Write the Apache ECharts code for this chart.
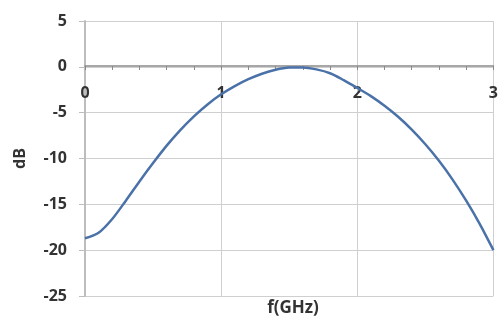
<!DOCTYPE html>
<html>
<head>
<meta charset="utf-8">
<script src="https://cdn.jsdelivr.net/npm/echarts@6/dist/echarts.min.js"></script>
<style>html,body{margin:0;padding:0;background:#fff;}#c{width:501px;height:323px;}</style>
</head>
<body>
<div id="c"></div>
<script>
var freqGHz = [0,0.1,0.2,0.3,0.4,0.5,0.6,0.7,0.8,0.9,1.0,1.1,1.2,1.3,1.4,1.5,1.6,1.7,1.8,1.9,2.0,2.1,2.2,2.3,2.4,2.5,2.6,2.7,2.8,2.9,3.0];
var gainDB  = [-18.7,-18.1,-16.6,-14.6,-12.5,-10.5,-8.6,-6.9,-5.4,-4.1,-3.0,-2.1,-1.35,-0.75,-0.32,-0.08,-0.06,-0.28,-0.7,-1.45,-2.3,-3.2,-4.25,-5.45,-6.85,-8.45,-10.25,-12.3,-14.6,-17.15,-20.0];
var xTicks = [0,1,2,3];
var yTicks = [-25,-20,-15,-10,-5,0,5];
var xName = 'f(GHz)';
var yName = 'dB';

var chart = echarts.init(document.getElementById('c'));
var font = '"Open Sans", "Liberation Sans", sans-serif';
chart.setOption({
  animation: false,
  grid: {left: 85, right: 4, top: 21, bottom: 27},
  xAxis: {
    type: 'value', min: xTicks[0], max: xTicks[xTicks.length-1], interval: 1,
    position: 'bottom', offset: -230,
    axisLine: {onZero: false, lineStyle: {color: '#8a8a8a', width: 1.5}},
    axisTick: {show: true, inside: false, length: 4, lineStyle: {color: '#8a8a8a'}},
    minorTick: {show: true, splitNumber: 5, length: 4, lineStyle: {color: '#8a8a8a'}},
    axisLabel: {margin: 19, color: '#333', fontSize: 16, fontWeight: 'bold', fontFamily: font},
    splitLine: {show: true, lineStyle: {color: '#cfcfcf', width: 1}}
  },
  yAxis: {
    type: 'value', min: yTicks[0], max: yTicks[yTicks.length-1], interval: 5,
    name: yName, nameLocation: 'middle', nameGap: 57, nameRotate: 90,
    nameTextStyle: {color: '#333', fontSize: 16, fontWeight: 'bold', fontFamily: font},
    axisLine: {show: true, onZero: false, lineStyle: {color: '#bdbdbd', width: 2}},
    axisTick: {show: true, length: 6, lineStyle: {color: '#bdbdbd'}},
    axisLabel: {margin: 18, color: '#333', fontSize: 16, fontWeight: 'bold', fontFamily: font},
    splitLine: {show: true, lineStyle: {color: '#cfcfcf', width: 1}}
  },
  graphic: [{
    type: 'text', x: 293, y: 308,
    style: {text: xName, textAlign: 'center', textVerticalAlign: 'middle', fill: '#333',
            font: 'bold 17px "Open Sans", "Liberation Sans", sans-serif'}
  }],
  series: [{
    type: 'line', smooth: 0.3, showSymbol: false,
    data: freqGHz.map(function(f, i){ return [f, gainDB[i]]; }),
    lineStyle: {color: '#4a72a8', width: 2.5}
  }]
});
</script>
</body>
</html>
